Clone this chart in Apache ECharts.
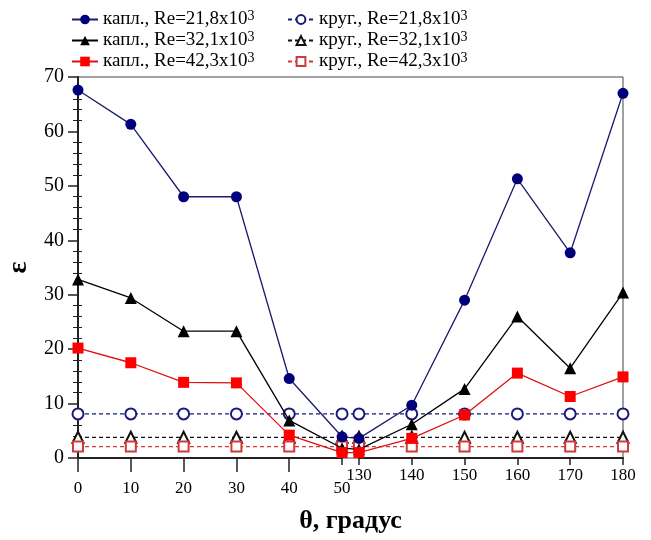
<!DOCTYPE html>
<html>
<head>
<meta charset="utf-8">
<script src="https://cdn.jsdelivr.net/npm/echarts@6.0.0/dist/echarts.min.js"></script>
<style>
  html, body { margin: 0; padding: 0; background: #fff; }
  #chart { width: 651px; height: 540px; }
</style>
</head>
<body>
<div id="chart"></div>
<script>
// Angle positions, degrees (axis is broken between 50 and 130)
const angles = [0, 10, 20, 30, 40, 50, 130, 140, 150, 160, 170, 180];

// Drop-shaped tube ("капл.")
const kapl21 = [67.6, 61.3, 48.0, 48.0, 14.6, 3.9, 3.6, 9.7, 29.0, 51.3, 37.7, 67.0];
const kapl32 = [32.8, 29.4, 23.3, 23.3, 6.9, 1.8, 1.6, 6.2, 12.7, 26.0, 16.5, 30.4];
const kapl42 = [20.2, 17.5, 13.9, 13.8, 4.2, 1.0, 1.0, 3.6, 7.9, 15.6, 11.3, 14.9];

// Round tube ("круг.")
const krug21 = [8.1, 8.1, 8.1, 8.1, 8.1, 8.1, 8.1, 8.1, 8.1, 8.1, 8.1, 8.1];
const krug32 = [3.8, 3.8, 3.8, 3.8, 3.8, 3.8, 3.8, 3.8, 3.8, 3.8, 3.8, 3.8];
const krug42 = [2.1, 2.1, 2.1, 2.1, 2.1, 2.1, 2.1, 2.1, 2.1, 2.1, 2.1, 2.1];

// Tick labels
const leftTicks = [0, 10, 20, 30, 40, 50];
const rightTicks = [130, 140, 150, 160, 170, 180];

const SERIF = "'Liberation Serif', 'Times New Roman', serif";

const pairs = (ys) => angles.map((a, i) => [a, ys[i]]);

const axisBreak = [{ start: 50, end: 130, gap: 3.2 }];

function solid(name, data, color, lineColor, symbol, size) {
  return {
    name, type: 'line', data: pairs(data), z: 5,
    symbol, symbolSize: size,
    lineStyle: { color: lineColor, width: 1.3 },
    itemStyle: { color: color, borderWidth: 0 },
    emphasis: { disabled: true }
  };
}
function dashed(name, data, color, symbol, size) {
  return {
    name, type: 'line', data: pairs(data), z: 3,
    symbol, symbolSize: size,
    lineStyle: { color: color, width: 1.2, type: [4, 3] },
    itemStyle: { color: color, borderColor: color, borderWidth: 1.2 },
    emphasis: { disabled: true }
  };
}

const legendText = {
  fontFamily: SERIF, fontSize: 19, color: '#000', lineHeight: 21,
  rich: { sup: { fontFamily: SERIF, fontSize: 14, verticalAlign: 'top', lineHeight: 21, padding: [0, 0, 7, 0] } }
};
const fmtLegend = (n) => n + '{sup|3}';

const chart = echarts.init(document.getElementById('chart'), null, { renderer: 'canvas' });
chart.setOption({
  animation: false,
  backgroundColor: '#fff',
  grid: {
    left: 78, right: 28, top: 77, bottom: 82,
    outerBoundsMode: 'none', containLabel: false,
    show: true, borderColor: '#444', borderWidth: 1
  },
  legend: [
    {
      data: ['капл., Re=21,8x10', 'капл., Re=32,1x10', 'капл., Re=42,3x10'],
      orient: 'vertical', left: 66, top: 4, itemGap: 0,
      itemWidth: 26, itemHeight: 12, formatter: fmtLegend, textStyle: legendText,
      selectedMode: false
    },
    {
      data: ['круг., Re=21,8x10', 'круг., Re=32,1x10', 'круг., Re=42,3x10'],
      orient: 'vertical', left: 282, top: 4, itemGap: 0,
      itemWidth: 26, itemHeight: 11, formatter: fmtLegend, textStyle: legendText,
      selectedMode: false
    }
  ],
  xAxis: [
    {
      type: 'value', min: 0, max: 180, interval: 10,
      breaks: axisBreak,
      breakArea: { show: false },
      name: 'θ, градус', nameLocation: 'middle', nameGap: 50,
      nameTextStyle: { fontFamily: SERIF, fontSize: 26, fontWeight: 'bold', color: '#000' },
      axisLine: { show: true, lineStyle: { color: '#222', width: 2 } },
      axisTick: { show: true, customValues: [0, 10, 20, 30, 40], length: 14, lineStyle: { color: '#222', width: 1.5 } },
      axisLabel: { customValues: leftTicks, margin: 22, fontFamily: SERIF, fontSize: 17, color: '#000' },
      splitLine: { show: false }
    },
    {
      type: 'value', min: 0, max: 180, interval: 10,
      breaks: axisBreak,
      breakArea: { show: false },
      position: 'bottom',
      axisLine: { show: false },
      axisTick: { show: true, customValues: [50].concat(rightTicks), length: 7, lineStyle: { color: '#222', width: 1.5 } },
      axisLabel: { customValues: rightTicks, margin: 9, fontFamily: SERIF, fontSize: 17, color: '#000' },
      splitLine: { show: false }
    }
  ],
  yAxis: [
    {
      type: 'value', min: 0, max: 70, interval: 10,
      name: 'ε', nameLocation: 'middle', nameGap: 42, nameRotate: 90,
      nameTextStyle: { fontFamily: SERIF, fontSize: 28, fontWeight: 'bold', color: '#000' },
      axisLine: { show: true, lineStyle: { color: '#222', width: 2 } },
      axisTick: { show: true, length: 10, lineStyle: { color: '#222', width: 1.5 } },
      minorTick: { show: true, splitNumber: 5, length: 5, lineStyle: { color: '#222', width: 1 } },
      axisLabel: { margin: 14, fontFamily: SERIF, fontSize: 20, color: '#000' },
      splitLine: { show: false }, minorSplitLine: { show: false }
    },
    {
      // inner half of the minor ticks
      type: 'value', min: 0, max: 70, interval: 10, position: 'left',
      axisLine: { show: false },
      axisTick: { show: false, inside: true },
      minorTick: { show: true, splitNumber: 5, length: 4, lineStyle: { color: '#222', width: 1 } },
      axisLabel: { show: false },
      splitLine: { show: false }
    }
  ],
  series: [
    dashed('круг., Re=21,8x10', krug21, '#1a1a7a', 'emptyCircle', 11),
    dashed('круг., Re=32,1x10', krug32, '#111', 'emptyTriangle', 11),
    dashed('круг., Re=42,3x10', krug42, '#d03a3a', 'emptyRect', 10),
    solid('капл., Re=21,8x10', kapl21, '#00007a', '#1a1a6e', 'circle', 11),
    solid('капл., Re=32,1x10', kapl32, '#000', '#000', 'triangle', 12),
    solid('капл., Re=42,3x10', kapl42, '#ff0000', '#e01010', 'rect', 11)
  ]
});
</script>
</body>
</html>
